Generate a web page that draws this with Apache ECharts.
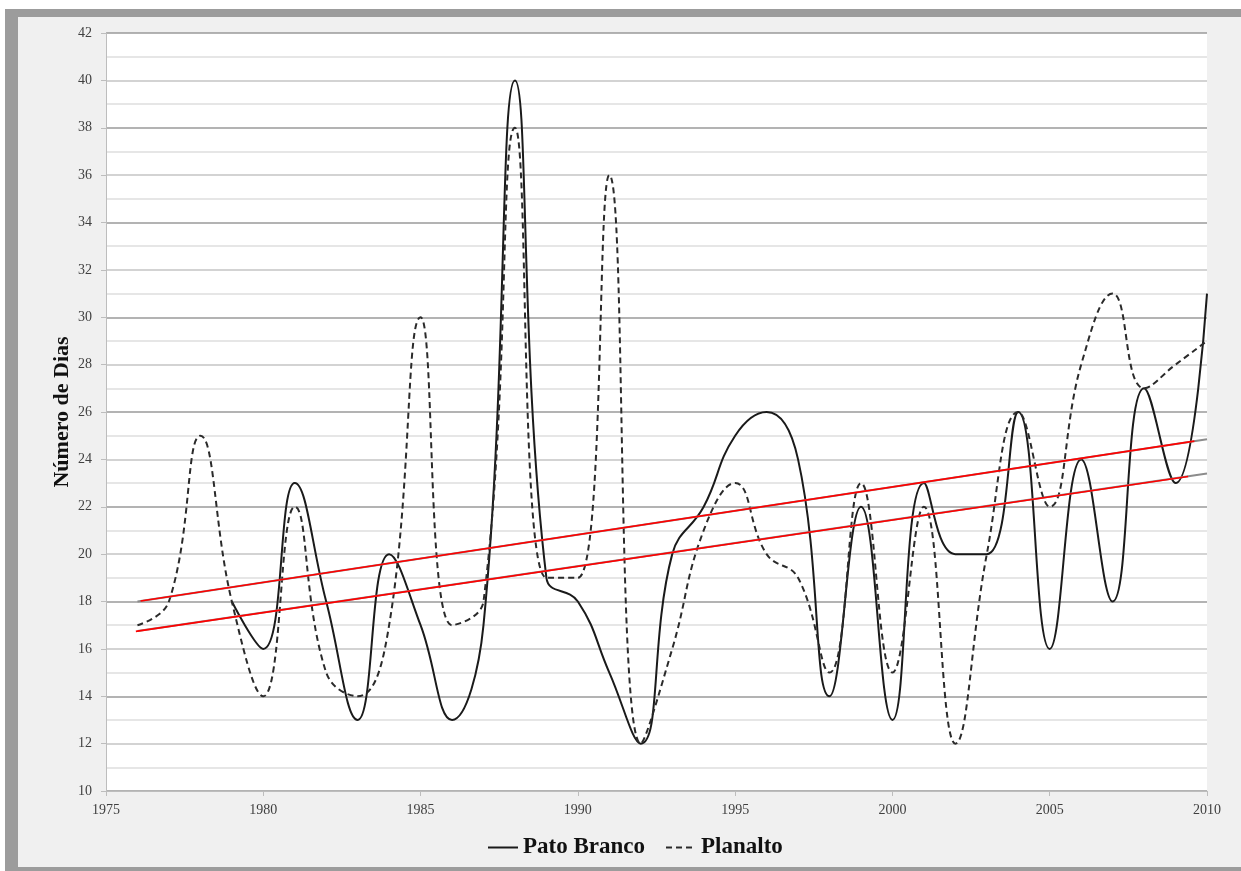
<!DOCTYPE html>
<html>
<head>
<meta charset="utf-8">
<script src="https://cdn.jsdelivr.net/npm/echarts@6/dist/echarts.min.js"></script>
<style>
  html, body { margin: 0; padding: 0; background: #fff; }
  #chart { width: 1241px; height: 871px; }
</style>
</head>
<body>
<div id="chart"></div>
<script>
const years = [1976, 1977, 1978, 1979, 1980, 1981, 1982, 1983, 1984, 1985, 1986, 1987, 1988, 1989, 1990, 1991, 1992, 1993,
  1994, 1995, 1996, 1997, 1998, 1999, 2000, 2001, 2002, 2003, 2004, 2005, 2006, 2007, 2008, 2009, 2010]
const patoBranco = [null, null, null, 18, 16, 23, 18, 13, 20, 17, 13, 17, 40, 19, 18, 15, 12, 20,
  22, 25, 26, 24, 14, 22, 13, 23, 20, 20, 26, 16, 24, 18, 27, 23, 31]
const planalto = [17, 18, 25, 18, 14, 22, 15, 14, 17, 30, 17, 18, 38, 19, 19, 36, 12, 16,
  21, 23, 20, 19, 15, 23, 15, 22, 12, 20, 26, 22, 28, 31, 27, 28, 29]

// trend lines: [start year, value], [end year, value]
const trendUpper = [[1976, 18.0], [2010, 24.85]]
const trendUpperRed = [[1976.1, 18.02], [2009.6, 24.77]]
const trendLower = [[1976, 16.75], [2010, 23.4]]
const trendLowerRed = [[1975.95, 16.74], [2009.4, 23.28]]

const yTitle = 'Número de Dias'

function pairs(vals) {
  const out = []
  years.forEach((y, i) => { if (vals[i] !== null) out.push([y, vals[i]]) })
  return out
}

const serif = "'Liberation Serif', 'Times New Roman', serif"
const chart = echarts.init(document.getElementById('chart'))

chart.setOption({
  animation: false,
  backgroundColor: '#fff',
  graphic: [
    { type: 'rect', z: -10, shape: { x: 5, y: 9, width: 1236, height: 862 }, style: { fill: '#9c9c9c' } },
    { type: 'rect', z: -9, shape: { x: 18, y: 17, width: 1223, height: 850 }, style: { fill: '#f0f0f0' } },
    {
      type: 'text', x: 62, y: 412, rotation: Math.PI / 2, z: 10,
      style: { text: yTitle, font: "bold 22px 'Liberation Serif', serif", fill: '#111', align: 'center', verticalAlign: 'middle' }
    }
  ],
  grid: { left: 106, right: 34, top: 33, bottom: 80, backgroundColor: '#fff', show: true, borderWidth: 0 },
  legend: {
    data: ['Pato Branco', 'Planalto'],
    bottom: 7,
    left: 482,
    itemWidth: 30,
    itemHeight: 14,
    itemGap: 20,
    itemStyle: { opacity: 0 },
    textStyle: { fontFamily: serif, fontWeight: 'bold', fontSize: 23, color: '#111' }
  },
  xAxis: {
    type: 'value',
    min: 1975,
    max: 2010,
    interval: 5,
    axisLine: { lineStyle: { color: '#bdbdbd', width: 1 } },
    axisTick: { show: true, length: 5, lineStyle: { color: '#bdbdbd' } },
    axisLabel: { fontFamily: serif, fontSize: 14, color: '#404040', margin: 12, formatter: v => String(v) },
    splitLine: { show: false }
  },
  yAxis: {
    type: 'value',
    min: 10,
    max: 42,
    interval: 2,
    axisLine: { show: true, lineStyle: { color: '#bdbdbd', width: 1 } },
    axisTick: { show: true, length: 5, lineStyle: { color: '#bdbdbd' } },
    axisLabel: { fontFamily: serif, fontSize: 14, color: '#404040', margin: 14 },
    splitLine: { lineStyle: { color: ['#9a9a9a', '#c4c4c4'], width: 1.5 } },
    minorTick: { show: false, splitNumber: 2 },
    minorSplitLine: { show: true, lineStyle: { color: '#dedede', width: 1.5 } }
  },
  series: [
    {
      name: 'Pato Branco',
      type: 'line',
      data: pairs(patoBranco),
      smooth: 0.45,
      symbol: 'none',
      lineStyle: { color: '#1a1a1a', width: 2 },
      itemStyle: { color: '#1a1a1a' },
      z: 3
    },
    {
      name: 'Planalto',
      type: 'line',
      data: pairs(planalto),
      smooth: 0.45,
      symbol: 'none',
      lineStyle: { color: '#2a2a2a', width: 2, type: [6, 4] },
      itemStyle: { color: '#2a2a2a' },
      z: 3
    },
    { name: 'trendA', type: 'line', data: trendUpper, symbol: 'none', lineStyle: { color: '#8c8c8c', width: 2 }, z: 4 },
    { name: 'trendB', type: 'line', data: trendLower, symbol: 'none', lineStyle: { color: '#8c8c8c', width: 2 }, z: 4 },
    { name: 'trendAred', type: 'line', data: trendUpperRed, symbol: 'none', lineStyle: { color: '#ff0000', width: 1.6 }, z: 5 },
    { name: 'trendBred', type: 'line', data: trendLowerRed, symbol: 'none', lineStyle: { color: '#ff0000', width: 1.6 }, z: 5 }
  ]
})
</script>
</body>
</html>
